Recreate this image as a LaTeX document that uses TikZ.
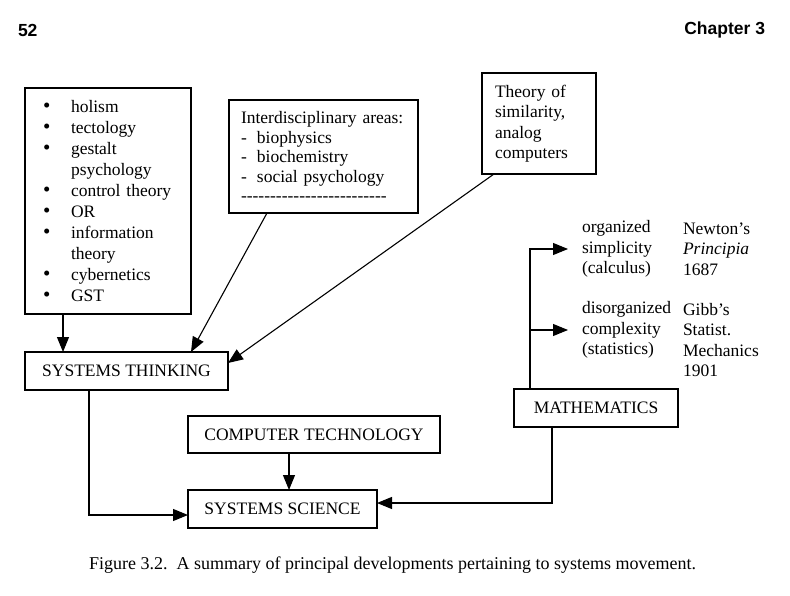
\documentclass[tikz,border=0pt]{standalone}
\usepackage{fontspec}
\setmainfont{Liberation Serif}
\newfontfamily\headfont{Liberation Sans}
\usetikzlibrary{arrows.meta}
\newcommand\blt[1]{\makebox[28pt][l]{\scalebox{1.2}{\textbullet}}#1}
\newcommand\bltc[1]{\hspace*{28pt}#1}
\newcommand\dsh{\makebox[16pt][l]{-}}
\newcommand\dashrow{\foreach\k in {1,...,25}{\mbox{-}}}

\begin{document}
\begin{tikzpicture}[x=1pt,y=-1pt,
    line join=miter,
    every node/.style={inner sep=0pt,outer sep=0pt},
    txt/.style={font=\fontsize{17.5}{20.5}\selectfont},
    head/.style={font=\headfont\bfseries\fontsize{17.5}{21}\selectfont},
    box/.style={txt,draw,line width=1.3pt},
    note/.style={txt,align=left,anchor=west},
    arr/.style={line width=1.1pt,-{Triangle[length=15pt,width=12pt]}}]
  \useasboundingbox (0,0) rectangle (790,596);
  % ---- page header ----
  \node[head,anchor=base west] (pageno) at (18,37) {52};
  \node[head,anchor=base east] (chapter) at (765,35) {Chapter 3};
  % ---- boxes ----
  \node[box,align=left,text width=130,minimum width=166,minimum height=226,
        font=\fontsize{17.5}{20.9}\selectfont] (list) at (108,201)
    {\blt{holism}\\\blt{tectology}\\\blt{gestalt}\\\bltc{psychology}\\
     \blt{control theory}\\\blt{OR}\\\blt{information}\\\bltc{theory}\\
     \blt{cybernetics}\\\blt{GST}};
  \node[box,align=left,text width=165,minimum width=189,minimum height=113,
        font=\fontsize{17.5}{19.5}\selectfont] (inter) at (323.5,156.5)
    {Interdisciplinary areas:\\\dsh biophysics\\\dsh biochemistry\\
     \dsh social psychology\\\dashrow};
  \node[box,align=left,text width=88,minimum width=114,minimum height=101] (theory) at (539,123.5)
    {Theory of\\similarity,\\analog\\computers};
  \node[box,minimum width=203,minimum height=38] (thinking) at (126.5,371) {SYSTEMS THINKING};
  \node[box,minimum width=164,minimum height=38] (math) at (596,408) {MATHEMATICS};
  \node[box,minimum width=252,minimum height=37] (comptech) at (314,434.5) {COMPUTER TECHNOLOGY};
  \node[box,minimum width=189,minimum height=38] (science) at (282.5,509) {SYSTEMS SCIENCE};
  % ---- notes beside mathematics ----
  \node[note] (orgs) at (582,249) {organized\\simplicity\\(calculus)};
  \node[note] (newton) at (683,249) {Newton's\\\textit{Principia}\\1687};
  \node[note] (disorg) at (582,330) {disorganized\\complexity\\(statistics)};
  \node[note] (gibbs) at (683,340) {Gibb's\\Statist.\\Mechanics\\1901};
  % ---- connectors ----
  \draw[arr] ([xshift=38]list.south west) -- ([xshift=38]thinking.north west);
  \draw[arr] ([xshift=38]inter.south west) -- ([xshift=166]thinking.north west);
  \draw[arr] ([xshift=12]theory.south west) -- ([yshift=-11]thinking.north east);
  \draw[arr] ([xshift=64]thinking.south west) |- ([yshift=-6]science.west);
  \draw[arr] ([xshift=101]comptech.south west) -- ([xshift=101]science.north west);
  \draw[arr] ([xshift=38]math.south west) |- ([yshift=6]science.east);
  \draw[arr,shorten >=14pt] ([xshift=16]math.north west) |- (orgs.west);
  \draw[arr,shorten >=14pt] ([xshift=16]math.north west) |- (disorg.west);
  % ---- caption ----
  \node[font=\fontsize{18}{22}\selectfont] (caption) at (392.5,565)
    {Figure 3.2.\ \ A summary of principal developments pertaining to systems movement.};
\end{tikzpicture}
\end{document}
